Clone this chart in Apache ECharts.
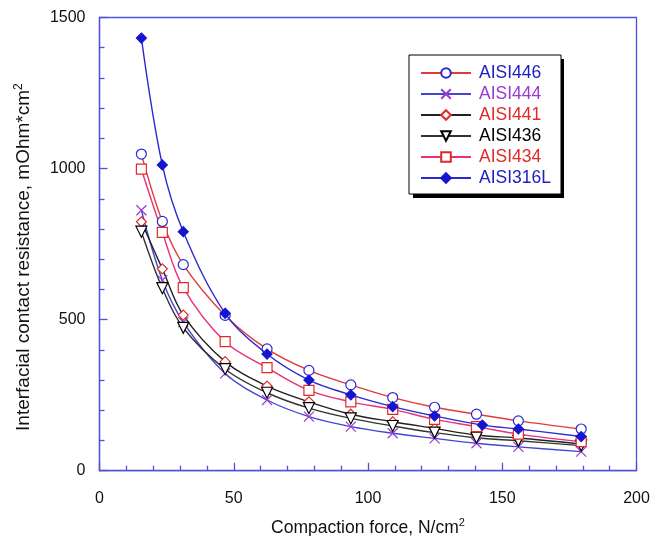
<!DOCTYPE html>
<html>
<head>
<meta charset="utf-8">
<script src="https://cdn.jsdelivr.net/npm/echarts@6/dist/echarts.min.js"></script>
<style>html,body{margin:0;padding:0;background:#fff}#c{width:663px;height:536px}</style>
</head>
<body>
<div id="c"></div>
<script>
var xForce = [15.6, 23.4, 31.2, 46.8, 62.4, 78, 93.6, 109.2, 124.8, 140.4, 156, 179.4];
var x316L  = [15.6, 23.4, 31.2, 46.8, 62.4, 78, 93.6, 109.2, 124.8, 142.6, 156, 179.4];
var aisi446  = [1048, 825, 682, 514, 403, 332, 284, 242, 210, 187, 165, 138];
var aisi444  = [862, 631, 492, 322, 234, 179, 146, 124, 107, 91, 79, 63];
var aisi441  = [824, 668, 515, 361, 280, 228, 187, 162, 140, 118, 108, 88];
var aisi436  = [791, 604, 473, 336, 258, 207, 173, 148, 126, 109, 99, 83];
var aisi434  = [998, 789, 606, 427, 341, 266, 228, 203, 170, 146, 121, 96];
var aisi316L = [1432, 1012, 791, 521, 386, 300, 251, 212, 181, 151, 138, 113];
var seriesNames = ['AISI446', 'AISI444', 'AISI441', 'AISI436', 'AISI434', 'AISI316L'];
var xTicks = [0, 50, 100, 150, 200];
var yTicks = [0, 500, 1000, 1500];

function pairs(xs, ys) { return ys.map(function (v, i) { return [xs[i], v]; }); }

var axisBlue = '#5050d8';
var FONT = 'Liberation Sans, Arial, sans-serif';
var crossPath = 'path://M0,0L10,10M10,0L0,10';

var cfg = [
  {data: pairs(xForce, aisi446), line: '#e03a3a', sym: 'circle', size: 10, fill: '#ffffff', border: '#2a2ad0', text: '#2020c0'},
  {data: pairs(xForce, aisi444), line: '#4444d8', sym: crossPath, size: 10, fill: 'none', border: '#9a3ad0', text: '#9a3ad0'},
  {data: pairs(xForce, aisi441), line: '#222222', sym: 'diamond', size: 10, fill: '#ffffff', border: '#e02a2a', text: '#e02a2a'},
  {data: pairs(xForce, aisi436), line: '#333333', sym: 'path://M0,0L10,0L5,10Z', size: 11, fill: '#ffffff', border: '#000000', text: '#000000'},
  {data: pairs(xForce, aisi434), line: '#e8307a', sym: 'rect', size: 10, fill: '#ffffff', border: '#e02a2a', text: '#e02a2a'},
  {data: pairs(x316L, aisi316L), line: '#2a2ad0', sym: 'diamond', size: 10, fill: '#1515d0', border: '#1515d0', text: '#2020c0'}
];

var series = cfg.map(function (c, i) {
  return {
    name: seriesNames[i],
    type: 'line',
    data: c.data,
    smooth: 0.35,
    symbol: c.sym,
    symbolSize: c.size,
    showAllSymbol: true,
    lineStyle: {color: c.line, width: 1.4},
    itemStyle: {color: c.fill, borderColor: c.border, borderWidth: 1.2},
    emphasis: {disabled: true},
    z: i === 5 ? 3 : 2
  };
});

var chart = echarts.init(document.getElementById('c'), null, {renderer: 'canvas'});
chart.setOption({
  animation: false,
  backgroundColor: '#ffffff',
  grid: {left: 99.5, right: 26.5, top: 17.5, bottom: 65.3, outerBoundsMode: 'none', containLabel: false,
    show: true, borderColor: axisBlue, borderWidth: 1.3, backgroundColor: 'transparent'},
  graphic: [{
    type: 'rect', z: 1, silent: true,
    shape: {x: 413, y: 59, width: 151, height: 139},
    style: {fill: '#000000'}
  }],
  legend: {
    orient: 'vertical',
    left: 409, top: 55, z: 10,
    padding: [9, 10, 7, 11],
    itemWidth: 50, itemHeight: 12, itemGap: 3,
    backgroundColor: '#ffffff',
    borderColor: '#000000', borderWidth: 1,
    textStyle: {fontFamily: FONT, fontSize: 17.5, lineHeight: 18, padding: [0, 0, 0, 3]},
    data: seriesNames.map(function (n, i) { return {name: n, textStyle: {color: cfg[i].text}}; })
  },
  xAxis: {
    type: 'value', min: 0, max: 200, interval: 50,
    name: 'Compaction force, N/cm{sup|2}', nameLocation: 'middle', nameGap: 47,
    nameTextStyle: {fontFamily: FONT, fontSize: 17.5, color: '#111', lineHeight: 20,
      rich: {sup: {fontFamily: FONT, fontSize: 11, color: '#111', verticalAlign: 'top', lineHeight: 20, padding: [0, 0, 8, 0]}}},
    axisLine: {show: true, lineStyle: {color: axisBlue, width: 1.3}},
    axisTick: {show: true, inside: true, length: 8, lineStyle: {color: axisBlue, width: 1.3}},
    minorTick: {show: true, splitNumber: 5, length: 5, lineStyle: {color: axisBlue, width: 1.3}},
    axisLabel: {fontFamily: FONT, fontSize: 16, color: '#111', margin: 20,
      formatter: function (v) { return xTicks.indexOf(v) >= 0 ? String(v) : ''; }},
    splitLine: {show: false}
  },
  yAxis: {
    type: 'value', min: 0, max: 1500, interval: 500,
    name: 'Interfacial contact resistance, mOhm*cm{sup|2}', nameLocation: 'middle', nameGap: 65,
    nameTextStyle: {fontFamily: FONT, fontSize: 19, color: '#111', lineHeight: 22, padding: [0, 26, 0, 0],
      rich: {sup: {fontFamily: FONT, fontSize: 12, color: '#111', verticalAlign: 'top', lineHeight: 22, padding: [0, 0, 9, 0]}}},
    axisLine: {show: true, lineStyle: {color: axisBlue, width: 1.3}},
    axisTick: {show: true, inside: true, length: 8, lineStyle: {color: axisBlue, width: 1.3}},
    minorTick: {show: true, splitNumber: 5, length: 5, lineStyle: {color: axisBlue, width: 1.3}},
    axisLabel: {fontFamily: FONT, fontSize: 16, color: '#111', margin: 14,
      formatter: function (v) { return yTicks.indexOf(v) >= 0 ? String(v) : ''; }},
    splitLine: {show: false}
  },
  series: series
});
</script>
</body>
</html>
